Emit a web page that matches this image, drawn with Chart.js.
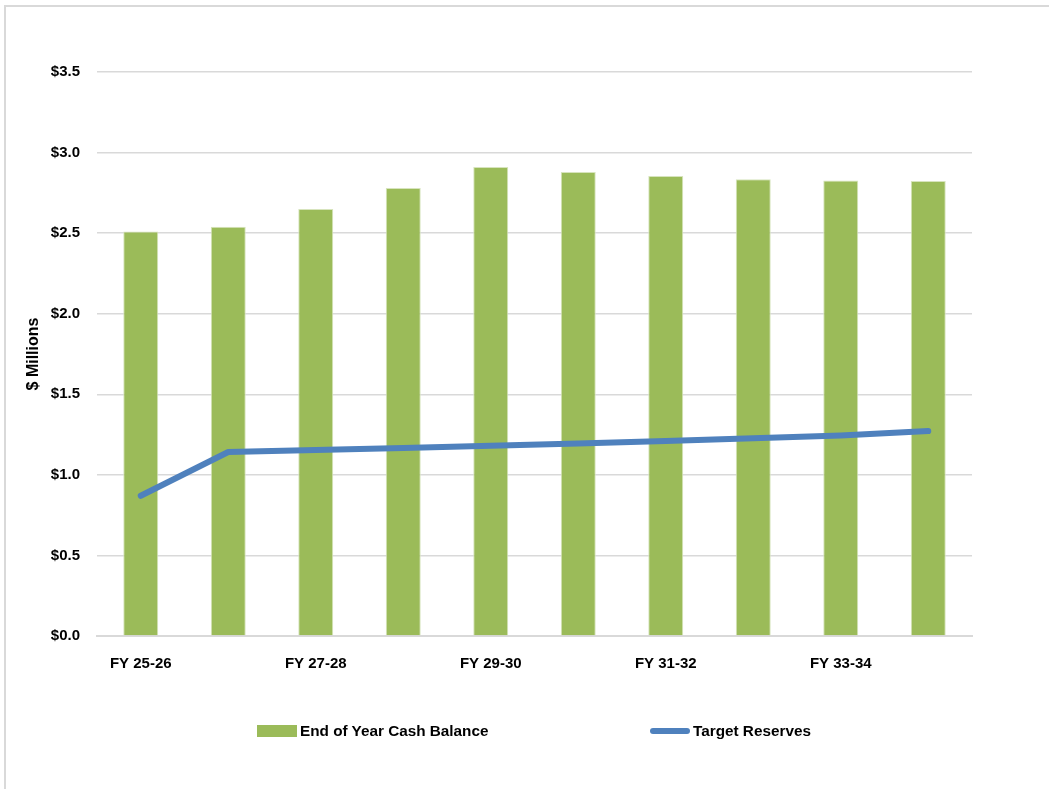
<!DOCTYPE html>
<html>
<head>
<meta charset="utf-8">
<script src="https://cdn.jsdelivr.net/npm/chart.js@4.4.1/dist/chart.umd.min.js"></script>
<style>
  body { margin: 0; background: #fff; font-family: "Liberation Sans", Arial, sans-serif; }
  #wrap { position: relative; width: 1049px; height: 789px; overflow: hidden; }
  #frame { position: absolute; left: 4px; top: 5px; width: 1100px; height: 900px; border-left: 2px solid #d9d9d9; border-top: 2px solid #d9d9d9; }
  #chart { position: absolute; left: 0; top: 0; }
  #legend { position: absolute; top: 720px; left: 0; width: 1049px; font-weight: bold; font-size: 15.3px; color: #000; }
  .item { position: absolute; top: 0; display: flex; align-items: center; height: 22px; }
  .box { width: 40px; height: 12px; background: #9bbb59; margin-right: 3px; }
  .ln { width: 40px; height: 6px; border-radius: 3px; background: #4f81bd; margin-right: 3px; }
</style>
</head>
<body>
<div id="wrap">
  <div id="frame"></div>
  <canvas id="chart" width="1049" height="789"></canvas>
  <div id="legend">
    <div class="item" style="left:257px"><span class="box"></span>End of Year Cash Balance</div>
    <div class="item" style="left:650px"><span class="ln"></span>Target Reserves</div>
  </div>
</div>
<script>
var years = ["FY 25-26", "FY 26-27", "FY 27-28", "FY 28-29", "FY 29-30",
             "FY 30-31", "FY 31-32", "FY 32-33", "FY 33-34", "FY 34-35"];
var cashBalance = [2.51, 2.54, 2.65, 2.78, 2.91, 2.88, 2.855, 2.835, 2.826, 2.824];
var targetReserves = [0.87, 1.142, 1.155, 1.167, 1.18, 1.195, 1.21, 1.227, 1.245, 1.272];

var tickFont = { family: "Liberation Sans", size: 15, weight: "bold" };

var ctx = document.getElementById("chart").getContext("2d");
new Chart(ctx, {
  type: "bar",
  data: {
    labels: years,
    datasets: [
      {
        type: "line",
        label: "Target Reserves",
        data: targetReserves,
        borderColor: "#4f81bd",
        borderWidth: 6,
        borderCapStyle: "round",
        borderJoinStyle: "round",
        pointRadius: 0,
        tension: 0,
        fill: false,
        order: 0,
      },
      {
        label: "End of Year Cash Balance",
        data: cashBalance,
        backgroundColor: "#9bbb59",
        borderColor: "#d7e4bd",
        borderWidth: 1,
        barPercentage: 0.4,
        categoryPercentage: 1.0,
        order: 1,
      },
    ],
  },
  options: {
    responsive: false,
    animation: false,
    layout: { padding: { top: 72, left: 20, right: 77, bottom: 0 } },
    plugins: {
      legend: { display: false },
      tooltip: { enabled: false },
    },
    scales: {
      x: {
        grid: { display: false },
        border: { color: "#d9d9d9", width: 2 },
        ticks: {
          font: tickFont,
          color: "#000",
          autoSkip: false,
          maxRotation: 0,
          padding: 11,
          callback: function (value, index) {
            return index % 2 === 0 ? this.getLabelForValue(value) : "";
          },
        },
        afterFit: function (scale) { scale.height = 153; },
      },
      y: {
        min: 0,
        max: 3.5,
        ticks: {
          stepSize: 0.5,
          font: tickFont,
          color: "#000",
          padding: 17,
          callback: function (v) { return "$" + v.toFixed(1); },
        },
        grid: { color: "#d9d9d9", lineWidth: 1.5, drawTicks: false },
        border: { display: false },
        title: {
          display: true,
          text: "$ Millions",
          font: { family: "Liberation Sans", size: 16, weight: "bold" },
          color: "#000",
          padding: { top: 4, bottom: 0 },
        },
        afterFit: function (scale) { scale.width = 77; },
      },
    },
  },
});
</script>
</body>
</html>
